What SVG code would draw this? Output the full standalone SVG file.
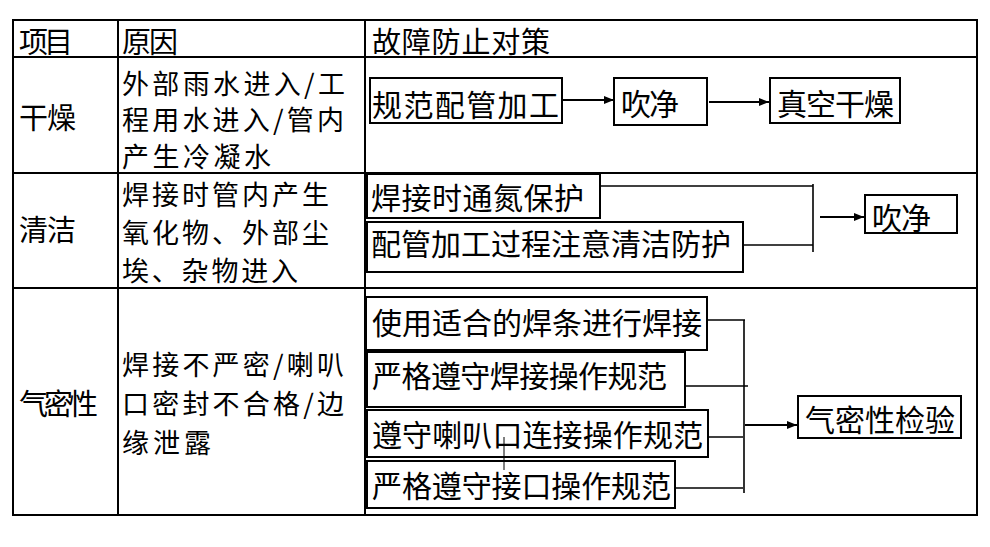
<svg xmlns="http://www.w3.org/2000/svg" width="990" height="547" viewBox="0 0 990 547">
<style>
text{font-family:"Noto Sans CJK SC","Liberation Sans",sans-serif;fill:#000;}
.t{font-size:29px;}
.r{font-size:27px;}
.b{font-size:30px;}
.grid{stroke:#000;stroke-width:2;fill:none;}
.box{stroke:#000;stroke-width:2;fill:#fff;}
.con{stroke:#000;stroke-width:1.6;fill:none;}
.arr{stroke:#000;stroke-width:2.2;fill:none;marker-end:url(#ah);}
</style>
<defs>
<marker id="ah" markerUnits="userSpaceOnUse" markerWidth="10" markerHeight="10" viewBox="0 0 10 10" refX="10" refY="5" orient="auto">
<path d="M0,1 L10,5 L0,9 Z" fill="#000"/>
</marker>
</defs>
<rect width="990" height="547" fill="#fff"/>
<g id="table">
<rect class="grid" x="13" y="20" width="964" height="495"/>
<line class="grid" x1="118" y1="20" x2="118" y2="515"/>
<line class="grid" x1="365" y1="20" x2="365" y2="515"/>
<line class="grid" x1="13" y1="57" x2="977" y2="57"/>
<line class="grid" x1="13" y1="173" x2="977" y2="173"/>
<line class="grid" x1="13" y1="288" x2="977" y2="288"/>
<text class="t" x="19" y="53" textLength="54">项目</text>
<text class="t" x="122" y="53" textLength="56">原因</text>
<text class="t" x="372" y="53" textLength="178">故障防止对策</text>
<text class="t" x="19" y="129" textLength="57">干燥</text>
<text class="t" x="19" y="241" textLength="57">清洁</text>
<text class="t" x="19" y="415" textLength="79">气密性</text>
<text class="r" x="122" y="94" textLength="223">外部雨水进入/工</text>
<text class="r" x="122" y="130" textLength="222">程用水进入/管内</text>
<text class="r" x="122" y="167" textLength="149">产生冷凝水</text>
<text class="r" x="122" y="205" textLength="207">焊接时管内产生</text>
<text class="r" x="122" y="243" textLength="207">氧化物、外部尘</text>
<text class="r" x="122" y="281" textLength="176">埃、杂物进入</text>
<text class="r" x="122" y="375" textLength="222">焊接不严密/喇叭</text>
<text class="r" x="122" y="414" textLength="222">口密封不合格/边</text>
<text class="r" x="122" y="453" textLength="89">缘泄露</text>
</g>
<g id="connectors">
<line class="arr" x1="562" y1="100" x2="614" y2="100"/>
<line class="arr" x1="709" y1="102" x2="769" y2="102"/>
<polyline class="con" points="600,186 813,186"/>
<polyline class="con" points="743,245 813,245"/>
<line class="con" x1="813" y1="184" x2="813" y2="252"/>
<line class="arr" x1="820" y1="217" x2="864" y2="217"/>
<line class="con" x1="707" y1="320" x2="745" y2="320"/>
<line class="con" x1="685" y1="386" x2="748" y2="386"/>
<line class="con" x1="708" y1="437" x2="743" y2="437"/>
<line class="con" x1="675" y1="488" x2="743" y2="488"/>
<line class="con" x1="744" y1="320" x2="744" y2="493"/>
<line class="arr" x1="745" y1="425" x2="797" y2="425"/>
</g>
<g id="n-guifan">
<rect class="box" x="370" y="78" width="192" height="45"/>
<text class="b" x="372" y="116" textLength="187">规范配管加工</text>
</g>
<g id="n-chuijing1">
<rect class="box" x="614" y="78" width="93" height="47"/>
<text class="b" x="621" y="115" textLength="58">吹净</text>
</g>
<g id="n-zhenkong">
<rect class="box" x="770" y="78" width="130" height="45"/>
<text class="b" x="777" y="115" textLength="117">真空干燥</text>
</g>
<g id="n-handan">
<rect class="box" x="367" y="174" width="233" height="44"/>
<text class="b" x="371" y="209" textLength="213">焊接时通氮保护</text>
</g>
<g id="n-peiguan">
<rect class="box" x="367" y="222" width="376" height="50"/>
<text class="b" x="371" y="255" textLength="360">配管加工过程注意清洁防护</text>
</g>
<g id="n-chuijing2">
<rect class="box" x="865" y="195" width="92" height="38"/>
<text class="b" x="872" y="229" textLength="59">吹净</text>
</g>
<g id="n-a">
<rect class="box" x="366" y="297" width="341" height="53"/>
<text class="b" x="372" y="334" textLength="330">使用适合的焊条进行焊接</text>
</g>
<g id="n-b">
<rect class="box" x="367" y="352" width="318" height="55"/>
<text class="b" x="372" y="387" textLength="295">严格遵守焊接操作规范</text>
</g>
<g id="n-c">
<rect class="box" x="367" y="410" width="341" height="47"/>
<text class="b" x="372" y="446" textLength="331">遵守喇叭口连接操作规范</text>
</g>
<g id="n-d">
<rect class="box" x="367" y="461" width="308" height="47"/>
<text class="b" x="372" y="497" textLength="299">严格遵守接口操作规范</text>
</g>
<line x1="504" y1="437" x2="504" y2="470" stroke="#000" stroke-width="1"/>
<g id="n-qimi">
<rect class="box" x="798" y="396" width="163" height="42"/>
<text class="b" x="805" y="431" textLength="150">气密性检验</text>
</g>
</svg>
